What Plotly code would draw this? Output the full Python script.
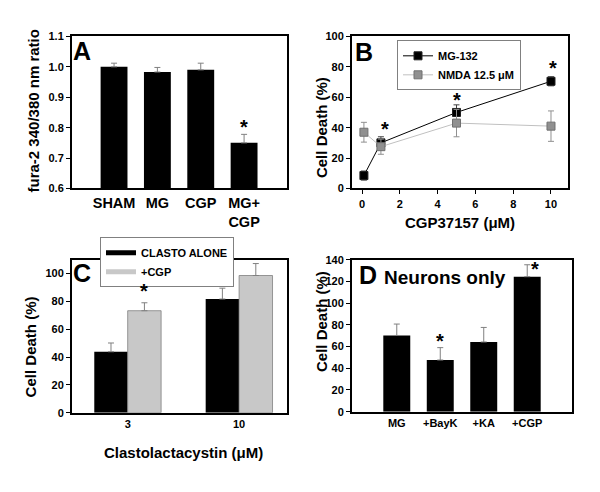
import plotly.graph_objects as go

# ---------------- data ----------------
# Panel A
a_cats = ["SHAM", "MG", "CGP", "MG+<br>CGP"]
a_vals = [1.0, 0.983, 0.99, 0.75]
a_err = [0.012, 0.015, 0.022, 0.028]

# Panel B
b_x = [0.1, 1, 5, 10]
b_mg = [8.5, 30, 50, 70.5]
b_mg_err = [3, 4, 5, 3]
b_nmda = [37, 27.5, 43, 41]
b_nmda_err = [6.5, 5, 9, 10]

# Panel C
c_cats = ["3", "10"]
c_alone = [43.8, 81.7]
c_alone_err = [6.3, 7.8]
c_cgp = [73.3, 98.6]
c_cgp_err = [5.7, 8.6]

# Panel D
d_cats = ["MG", "+BayK", "+KA", "+CGP"]
d_vals = [70.2, 47.6, 64.2, 124.3]
d_err = [10.5, 11.4, 13.4, 11.0]

FONT = "Liberation Sans, Arial, sans-serif"
OFF = 8            # page body margin
W, H = 600 - 2 * OFF, 492 - 2 * OFF


def px(x):
    return (x - OFF) / W


def py(y):
    return 1 - (y - OFF) / H


fig = go.Figure()

ebar = dict(color="#808080", thickness=1, width=3)

# A
fig.add_trace(go.Bar(x=list(range(4)), y=a_vals, width=0.62, marker=dict(color="black", line=dict(width=0)),
                     error_y=dict(type="data", symmetric=False, array=a_err, arrayminus=[0] * 4, **ebar),
                     xaxis="x", yaxis="y", showlegend=False))

# B
fig.add_trace(go.Scatter(x=b_x, y=b_mg, mode="lines+markers", name="MG-132",
                         line=dict(color="black", width=1),
                         marker=dict(symbol="square", size=8, color="black", line=dict(color="#202020", width=1)),
                         error_y=dict(type="data", array=b_mg_err, color="#404040", thickness=1, width=3),
                         xaxis="x2", yaxis="y2", legend="legend"))
fig.add_trace(go.Scatter(x=b_x, y=b_nmda, mode="lines+markers", name="NMDA 12.5 \u03bcM",
                         line=dict(color="#c0c0c0", width=1),
                         marker=dict(symbol="square", size=8, color="#909090", line=dict(color="#707070", width=1)),
                         error_y=dict(type="data", array=b_nmda_err, color="#909090", thickness=1, width=3),
                         xaxis="x2", yaxis="y2", legend="legend"))

# C
fig.add_trace(go.Bar(x=[0, 1], y=c_alone, width=0.3, offset=-0.3, name="CLASTO ALONE",
                     marker=dict(color="black", line=dict(width=0)),
                     error_y=dict(type="data", symmetric=False, array=c_alone_err, arrayminus=[0, 0], **ebar),
                     xaxis="x3", yaxis="y3", showlegend=False))
fig.add_trace(go.Bar(x=[0, 1], y=c_cgp, width=0.3, offset=0, name="+CGP",
                     marker=dict(color="#c8c8c8", line=dict(color="#808080", width=0.8)),
                     error_y=dict(type="data", symmetric=False, array=c_cgp_err, arrayminus=[0, 0], **ebar),
                     xaxis="x3", yaxis="y3", showlegend=False))
# legend entries for C (wide flat swatches like the original)
fig.add_trace(go.Scatter(x=[None], y=[None], mode="lines", name="CLASTO ALONE",
                         line=dict(color="black", width=5), xaxis="x3", yaxis="y3", legend="legend2"))
fig.add_trace(go.Scatter(x=[None], y=[None], mode="lines", name="+CGP",
                         line=dict(color="#c8c8c8", width=5), xaxis="x3", yaxis="y3", legend="legend2"))

# D
fig.add_trace(go.Bar(x=list(range(4)), y=d_vals, width=0.62, marker=dict(color="black", line=dict(width=0)),
                     error_y=dict(type="data", symmetric=False, array=d_err, arrayminus=[0] * 4, **ebar),
                     xaxis="x4", yaxis="y4", showlegend=False))

tickfont = dict(family=FONT, size=11, color="black", weight="bold")
common_y = dict(showline=True, linewidth=2, linecolor="black", mirror=True, ticks="outside", ticklen=4,
                tickwidth=1, tickcolor="black", showgrid=False, zeroline=False, tickfont=tickfont)
common_x = dict(showline=True, linewidth=2, linecolor="black", mirror=True, showgrid=False, zeroline=False,
                tickfont=tickfont)

fig.update_layout(
    width=W, height=H, margin=dict(l=0, r=0, t=0, b=0),
    paper_bgcolor="white", plot_bgcolor="white", barmode="overlay",
    font=dict(family=FONT, color="black"),
    xaxis=dict(domain=[px(72), px(287)], anchor="y", range=[-0.97, 3.99], tickvals=list(range(4)),
               ticktext=a_cats, ticks="", tickfont=dict(family=FONT, size=14.5, color="black", weight="bold"),
               **{k: v for k, v in common_x.items() if k != "tickfont"}),
    yaxis=dict(domain=[py(187), py(31)], anchor="x", range=[0.6, 1.1], dtick=0.1, tickformat=".1f", **common_y),
    xaxis2=dict(domain=[px(352), px(568)], anchor="y2", range=[-0.53, 10.9], tickvals=[0, 2, 4, 6, 8, 10],
                ticks="outside", ticklen=4, tickcolor="black", **common_x),
    yaxis2=dict(domain=[py(187), py(31)], anchor="x2", range=[0, 100], dtick=20, **common_y),
    xaxis3=dict(domain=[px(72), px(287)], anchor="y3", range=[-0.5, 1.43], tickvals=[0, 1], ticktext=c_cats,
                ticks="", **common_x),
    yaxis3=dict(domain=[py(417), py(260)], anchor="x3", range=[0, 110], tickvals=[0, 20, 40, 60, 80, 100],
                **common_y),
    xaxis4=dict(domain=[px(352), px(572)], anchor="y4", range=[-1.03, 4.03], tickvals=list(range(4)),
                ticktext=d_cats, ticks="", **common_x),
    yaxis4=dict(domain=[py(416), py(260)], anchor="x4", range=[0, 140], dtick=20, **common_y),
    legend=dict(x=px(397), y=py(35), xanchor="left", yanchor="top", bgcolor="white",
                bordercolor="#808080", borderwidth=1,
                font=dict(family=FONT, size=11, color="black", weight="bold"), itemwidth=30),
    legend2=dict(x=px(100), y=py(237), xanchor="left", yanchor="top", bgcolor="white",
                 bordercolor="#808080", borderwidth=1,
                 font=dict(family=FONT, size=11, color="black", weight="bold"), itemwidth=30),
)

ann = []
title_font = dict(family=FONT, size=15, color="black", weight="bold")
# axis titles
ann.append(dict(text="fura-2 340/380 nm ratio", x=px(33), y=py(108), xref="paper", yref="paper",
                textangle=-90, showarrow=False, font=title_font, xanchor="center", yanchor="middle"))
ann.append(dict(text="Cell Death (%)", x=px(321), y=py(125), xref="paper", yref="paper",
                textangle=-90, showarrow=False, font=title_font, xanchor="center", yanchor="middle"))
ann.append(dict(text="Cell Death (%)", x=px(30), y=py(350), xref="paper", yref="paper",
                textangle=-90, showarrow=False, font=title_font, xanchor="center", yanchor="middle"))
ann.append(dict(text="Cell Death (%)", x=px(321), y=py(324), xref="paper", yref="paper",
                textangle=-90, showarrow=False, font=title_font, xanchor="center", yanchor="middle"))
ann.append(dict(text="CGP37157 (\u03bcM)", x=px(460), y=py(222), xref="paper", yref="paper",
                showarrow=False, font=title_font, xanchor="center", yanchor="middle"))
ann.append(dict(text="Clastolactacystin (\u03bcM)", x=px(183), y=py(458), xref="paper", yref="paper",
                showarrow=False, font=title_font, xanchor="center", yanchor="middle"))

# panel letters
letter_font = dict(family=FONT, size=25, color="black", weight="bold")
ann.append(dict(text="A", x=px(71), y=py(30), xref="paper", yref="paper", showarrow=False,
                font=letter_font, xanchor="left", yanchor="top"))
ann.append(dict(text="B", x=px(353), y=py(31), xref="paper", yref="paper", showarrow=False,
                font=letter_font, xanchor="left", yanchor="top"))
ann.append(dict(text="C", x=px(71), y=py(257), xref="paper", yref="paper", showarrow=False,
                font=letter_font, xanchor="left", yanchor="top"))
ann.append(dict(text="D <span style='font-size:19px'>Neurons only</span>", x=px(357), y=py(259),
                xref="paper", yref="paper", showarrow=False, font=letter_font, xanchor="left", yanchor="top"))

# significance stars (data coordinates)
star_font = dict(family=FONT, size=20, color="black", weight="bold")


def star(x, y, xa, ya):
    return dict(text="*", x=x, y=y, xref=xa, yref=ya, showarrow=False, font=star_font,
                xanchor="center", yanchor="middle", yshift=0)


ann.append(star(3, 0.802, "x", "y"))
ann.append(star(1.2, 39, "x2", "y2"))
ann.append(star(5.0, 58.5, "x2", "y2"))
ann.append(star(10.1, 79, "x2", "y2"))
ann.append(star(0.15, 87.8, "x3", "y3"))
ann.append(star(1, 65, "x4", "y4"))
ann.append(star(3.18, 131.5, "x4", "y4"))

fig.update_layout(annotations=ann)
fig.write_html("out.html")
